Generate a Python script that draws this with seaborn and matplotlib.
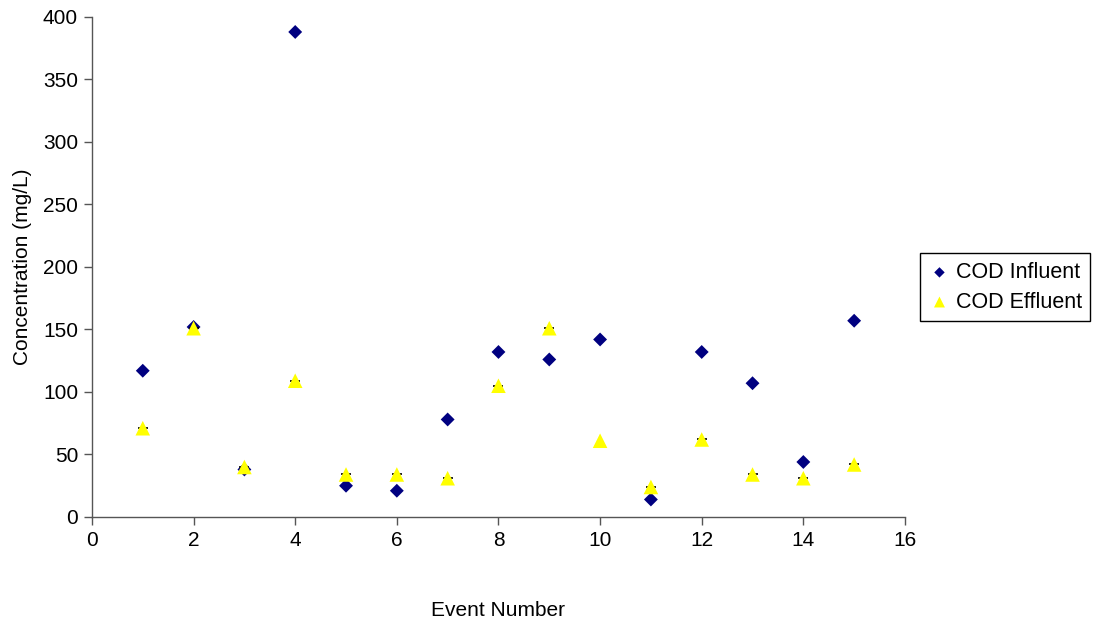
import numpy as np
import pandas as pd
import seaborn as sns
from matplotlib import pyplot as plt

# data
events = list(range(1, 16))
cod_influent = [117, 152, 38, 388, 25, 21, 78, 132, 126, 142, 14, 132, 107, 44, 157]
cod_effluent = [71, 151, 40, 109, 34, 34, 31, 105, 151, 61, 24, 62, 34, 31, 42]

inf_df = pd.DataFrame({'Event Number': events, 'Concentration (mg/L)': cod_influent})
eff_df = pd.DataFrame({'Event Number': events, 'Concentration (mg/L)': cod_effluent})

sns.set_style('white')
plt.rcParams['font.family'] = ['Liberation Sans', 'DejaVu Sans']
plt.rcParams['text.color'] = 'black'
plt.rcParams['axes.labelcolor'] = 'black'
plt.rcParams['xtick.color'] = 'black'
plt.rcParams['ytick.color'] = 'black'

fig = plt.figure(figsize=(10.96, 6.24), dpi=100)
ax = fig.add_axes([0.0839, 0.1715, 0.7418, 0.8013])

sns.scatterplot(data=inf_df, x='Event Number', y='Concentration (mg/L)',
                marker='D', color='#000080', s=50, edgecolor='none',
                label='COD Influent', ax=ax, zorder=2)

# faint black dashes sitting under the effluent triangles
dash_df = eff_df[eff_df['Event Number'] != 10]
sns.scatterplot(data=dash_df, x='Event Number', y='Concentration (mg/L)',
                marker='_', color='black', s=55, linewidth=1.2,
                legend=False, ax=ax, zorder=3)

sns.scatterplot(data=eff_df, x='Event Number', y='Concentration (mg/L)',
                marker='^', color='#ffff00', s=110, edgecolor='none',
                label='COD Effluent', ax=ax, zorder=4)

ax.set_xlim(0, 16)
ax.set_ylim(0, 400)
ax.set_xticks(np.arange(0, 17, 2))
ax.set_yticks(np.arange(0, 401, 50))
ax.tick_params(axis='both', direction='out', length=6, width=1, color='#555555',
               labelsize=15, labelcolor='black', bottom=True, left=True, pad=4)
for side in ['top', 'right']:
    ax.spines[side].set_visible(False)
for side in ['left', 'bottom']:
    ax.spines[side].set_color('#555555')
    ax.spines[side].set_linewidth(1)

ax.set_xlabel('Event Number', fontsize=15, labelpad=37, color='black')
ax.set_ylabel('Concentration (mg/L)', fontsize=15, labelpad=8, color='black')

handles, labels = ax.get_legend_handles_labels()
leg = ax.legend(handles, labels, loc='center left', bbox_to_anchor=(0.8395, 0.5395),
                bbox_transform=fig.transFigure, fontsize=15.5, frameon=True,
                fancybox=False, edgecolor='black', framealpha=1,
                handletextpad=0.25, borderpad=0.4, labelspacing=0.4,
                handlelength=1.0, borderaxespad=0, markerscale=0.75)
leg.get_frame().set_linewidth(1)

fig.savefig('out.png', dpi=100)
